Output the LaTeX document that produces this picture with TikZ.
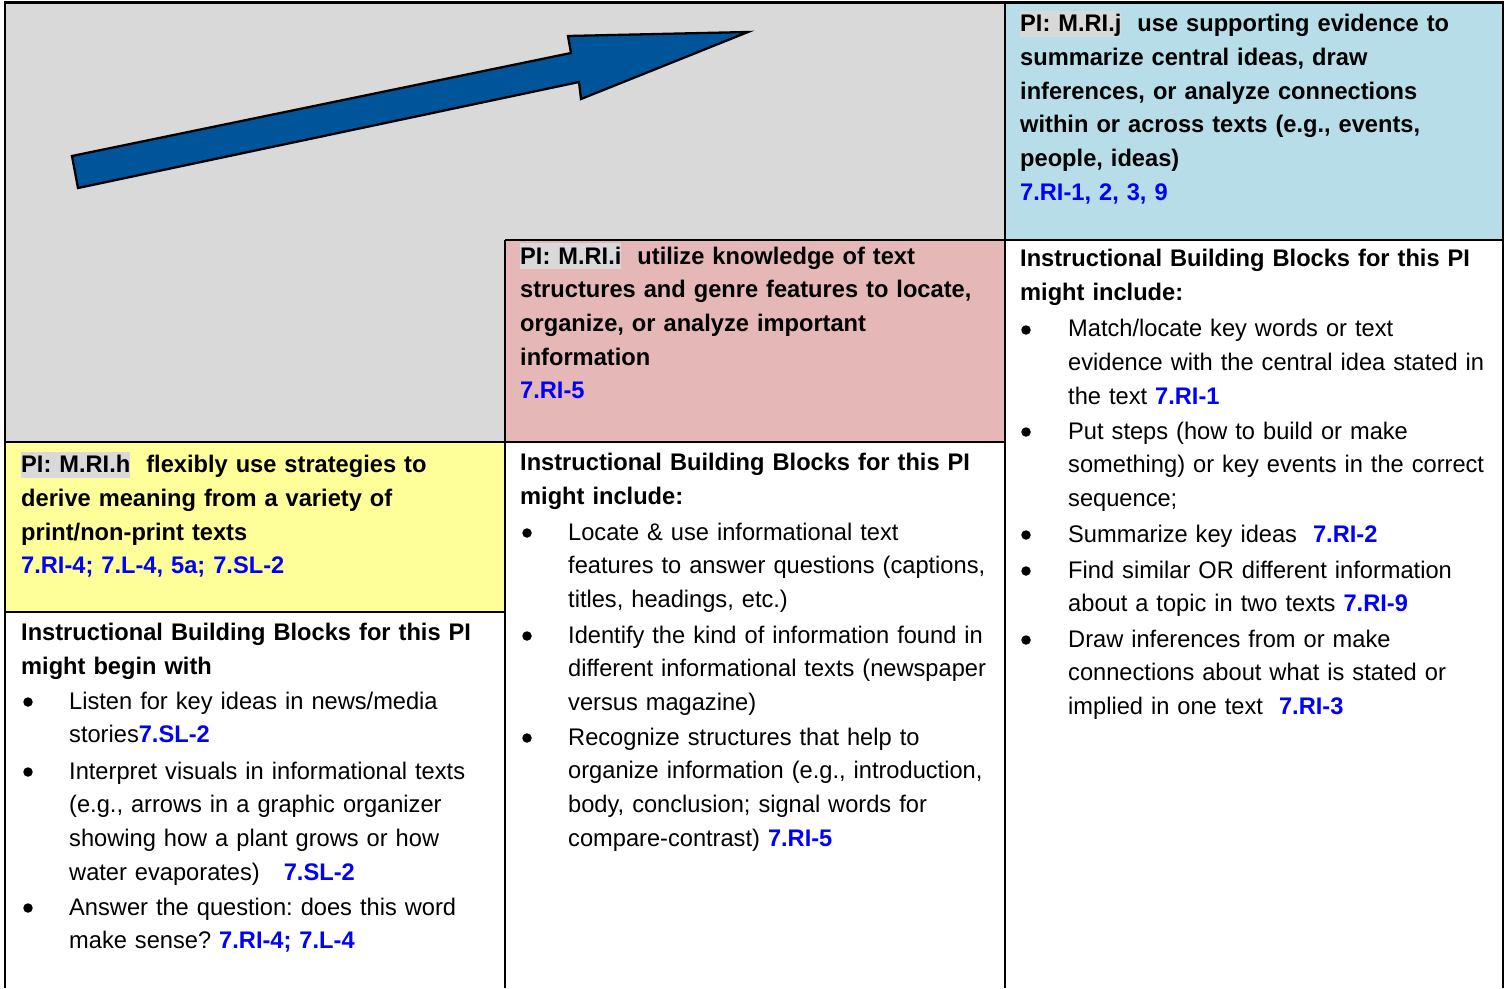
\documentclass[tikz,border=0pt]{standalone}
\usepackage{fontspec}
\setmainfont{Liberation Sans}[FakeStretch=0.985]
\definecolor{bggray}{HTML}{D9D9D9}
\definecolor{hlgray}{HTML}{D9D9D9}
\definecolor{cellblue}{HTML}{B7DDE8}
\definecolor{cellpink}{HTML}{E5B8B7}
\definecolor{cellyellow}{HTML}{FFFF99}
\definecolor{arrowblue}{HTML}{00559A}
\definecolor{stdblue}{HTML}{0000FF}
\newcommand{\std}[1]{\textbf{\textcolor{stdblue}{#1}}}
\newcommand{\pihl}[1]{{\setlength{\fboxsep}{0pt}\colorbox{hlgray}{\rule[-5pt]{0pt}{26pt}#1}}}
\tikzset{
  txt/.style={anchor=base west, inner sep=0pt, text width=480pt, align=left,
    font=\fontsize{24}{33.7}\selectfont\frenchspacing},
  btxt/.style={txt, font=\fontsize{24}{33.7}\selectfont\frenchspacing\bfseries},
  dot/.style={circle, fill=black, inner sep=0pt, minimum size=9.5pt},
  grid/.style={line width=2.3pt, draw=black},
}
\begin{document}
\begin{tikzpicture}[x=1pt,y=-1pt]
\useasboundingbox (0,0) rectangle (1509,988);
% cell fills
\fill[white] (0,0) rectangle (1509,988);
\fill[bggray] (5,2.5) -- (1005,2.5) -- (1005,240) -- (505,240) -- (505,442) -- (5,442) -- cycle;
\fill[cellblue] (1005,2.5) rectangle (1503,240);
\fill[cellpink] (505,240) rectangle (1005,442);
\fill[cellyellow] (5,442) rectangle (505,612);
% grid lines
\draw[grid] (5,988) -- (5,2.5) -- (1503,2.5) -- (1503,988);
\draw[grid] (1005,2.5) -- (1005,988);
\draw[grid] (505,240) -- (1503,240);
\draw[grid] (505,240) -- (505,988);
\draw[grid] (5,442) -- (1005,442);
\draw[grid] (5,612) -- (505,612);
% arrow
\draw[line width=2.3pt, fill=arrowblue, line join=miter]
  (72,156) -- (571,53) -- (568,36) -- (748,32) -- (581,99) -- (579,82) -- (78,188) -- cycle;

% blue cell
\node[btxt] (pij) at (1020,31.7) {\pihl{PI: M.RI.j}\ \ use supporting evidence to\\
summarize central ideas, draw\\
inferences, or analyze connections\\
within or across texts (e.g., events,\\
people, ideas)\\
\std{7.RI-1, 2, 3, 9}};

% pink cell
\node[btxt] (pii) at (520,264) {\pihl{PI: M.RI.i}\ \ utilize knowledge of text\\
structures and genre features to locate,\\
organize, or analyze important\\
information\\
\std{7.RI-5}};

% yellow cell
\node[btxt] (pih) at (21,472.7) {\pihl{PI: M.RI.h}\ \ flexibly use strategies to\\
derive meaning from a variety of\\
print/non-print texts\\
\std{7.RI-4; 7.L-4, 5a; 7.SL-2}};

% left white cell
\node[btxt] (hl) at (21,640.7) {Instructional Building Blocks for this PI\\
might begin with};
\node[dot] (bl1) at (28,702) {};
\node[txt] (tl1) at (69,709) {Listen for key ideas in news/media\\
stories\std{7.SL-2}};
\node[dot] (bl2) at (28,772) {};
\node[txt] (tl2) at (69,779) {Interpret visuals in informational texts\\
(e.g., arrows in a graphic organizer\\
showing how a plant grows or how\\
water evaporates)\ \ \ \std{7.SL-2}};
\node[dot] (bl3) at (28,908) {};
\node[txt] (tl3) at (69,915) {Answer the question: does this word\\
make sense? \std{7.RI-4; 7.L-4}};

% middle white cell
\node[btxt] (hm) at (520,470.7) {Instructional Building Blocks for this PI\\
might include:};
\node[dot] (bm1) at (527,533) {};
\node[txt] (tm1) at (568,540) {Locate \& use informational text\\
features to answer questions (captions,\\
titles, headings, etc.)};
\node[dot] (bm2) at (527,636) {};
\node[txt] (tm2) at (568,643) {Identify the kind of information found in\\
different informational texts (newspaper\\
versus magazine)};
\node[dot] (bm3) at (527,738) {};
\node[txt] (tm3) at (568,745) {Recognize structures that help to\\
organize information (e.g., introduction,\\
body, conclusion; signal words for\\
compare-contrast) \std{7.RI-5}};

% right white cell
\node[btxt] (hr) at (1020,266.7) {Instructional Building Blocks for this PI\\
might include:};
\node[dot] (br1) at (1026,330) {};
\node[txt] (tr1) at (1068,336.7) {Match/locate key words or text\\
evidence with the central idea stated in\\
the text \std{7.RI-1}};
\node[dot] (br2) at (1026,432) {};
\node[txt] (tr2) at (1068,439) {Put steps (how to build or make\\
something) or key events in the correct\\
sequence;};
\node[dot] (br3) at (1026,535) {};
\node[txt] (tr3) at (1068,542) {Summarize key ideas\ \ \std{7.RI-2}};
\node[dot] (br4) at (1026,571) {};
\node[txt] (tr4) at (1068,578) {Find similar OR different information\\
about a topic in two texts \std{7.RI-9}};
\node[dot] (br5) at (1026,640) {};
\node[txt] (tr5) at (1068,647) {Draw inferences from or make\\
connections about what is stated or\\
implied in one text\ \ \std{7.RI-3}};
\end{tikzpicture}
\end{document}
